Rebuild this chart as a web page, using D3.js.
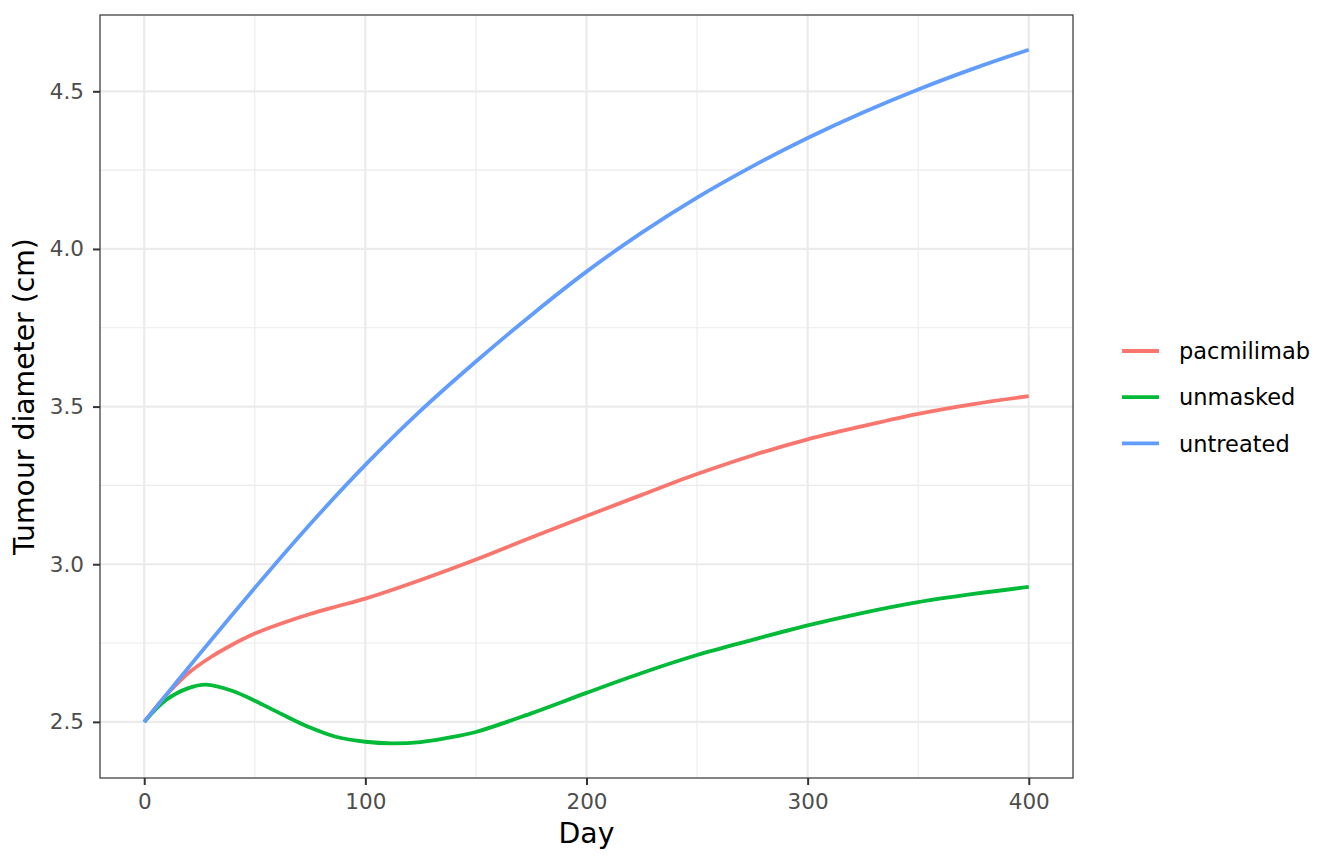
<!DOCTYPE html>
<html>
<head>
<meta charset="utf-8">
<script src="https://cdn.jsdelivr.net/npm/d3@7"></script>
<style>
  body { margin: 0; background: #fff; }
  svg { font-family: "DejaVu Sans", sans-serif; }
</style>
</head>
<body>
<script>
// values
const groups = ['pacmilimab', 'unmasked', 'untreated'];
const colors = ['#F8766D', '#00BA38', '#619CFF'];

const pacDays = [0, 10, 20, 30, 37.5, 50, 62, 75, 87, 100, 125, 150, 175, 200, 225, 250, 275, 300, 325, 350, 375, 400];
const pacVals = [2.5, 2.585, 2.655, 2.705, 2.736, 2.78, 2.812, 2.842, 2.866, 2.891, 2.95, 3.015, 3.085, 3.153, 3.22, 3.286, 3.345, 3.396, 3.438, 3.477, 3.508, 3.533];

const unmDays = [0, 10, 20, 28, 40, 50, 62, 75, 87, 100, 112, 125, 137, 150, 175, 200, 225, 250, 275, 300, 325, 350, 375, 400];
const unmVals = [2.5, 2.57, 2.607, 2.618, 2.598, 2.567, 2.525, 2.482, 2.452, 2.437, 2.432, 2.436, 2.449, 2.468, 2.527, 2.592, 2.655, 2.712, 2.760, 2.806, 2.846, 2.880, 2.906, 2.928];

const untDays = [0, 25, 50, 75, 100, 125, 150, 175, 200, 225, 250, 275, 300, 325, 350, 375, 400];
const untVals = [2.5, 2.715, 2.925, 3.127, 3.315, 3.487, 3.643, 3.79, 3.928, 4.052, 4.163, 4.262, 4.352, 4.433, 4.506, 4.572, 4.632];

const xTicks = [0, 100, 200, 300, 400];
const yTicks = [2.5, 3.0, 3.5, 4.0, 4.5];
const xMinor = [50, 150, 250, 350];
const yMinor = [2.75, 3.25, 3.75, 4.25];

const series = [
  { name: groups[0], days: pacDays, vals: pacVals },
  { name: groups[1], days: unmDays, vals: unmVals },
  { name: groups[2], days: untDays, vals: untVals }
];

const W = 1344, H = 864;
const margin = { top: 15, right: 271, bottom: 86, left: 100 };
const width = W - margin.left - margin.right;
const height = H - margin.top - margin.bottom;

const svg = d3.select('body').append('svg')
  .attr('width', W)
  .attr('height', H);

const g = svg.append('g')
  .attr('transform', `translate(${margin.left},${margin.top})`);

// ggplot-style expansion of 5%
const allVals = pacVals.concat(unmVals, untVals);
const yMin = d3.min(allVals), yMax = d3.max(allVals);
const yPad = (yMax - yMin) * 0.05;

const x = d3.scaleLinear().domain([-20, 420]).range([0, width]);
const y = d3.scaleLinear().domain([yMin - yPad, yMax + yPad]).range([height, 0]);

// minor grid
g.selectAll('.xminor').data(xMinor).enter().append('line')
  .attr('x1', d => x(d)).attr('x2', d => x(d))
  .attr('y1', 0).attr('y2', height)
  .attr('stroke', '#EBEBEB').attr('stroke-width', 1.1);
g.selectAll('.yminor').data(yMinor).enter().append('line')
  .attr('x1', 0).attr('x2', width)
  .attr('y1', d => y(d)).attr('y2', d => y(d))
  .attr('stroke', '#EBEBEB').attr('stroke-width', 1.1);

// major grid
g.selectAll('.xmajor').data(xTicks).enter().append('line')
  .attr('x1', d => x(d)).attr('x2', d => x(d))
  .attr('y1', 0).attr('y2', height)
  .attr('stroke', '#EBEBEB').attr('stroke-width', 2.2);
g.selectAll('.ymajor').data(yTicks).enter().append('line')
  .attr('x1', 0).attr('x2', width)
  .attr('y1', d => y(d)).attr('y2', d => y(d))
  .attr('stroke', '#EBEBEB').attr('stroke-width', 2.2);

// lines
const line = d3.line()
  .x(d => x(d[0]))
  .y(d => y(d[1]))
  .curve(d3.curveCatmullRom.alpha(0.5));

series.forEach((s, i) => {
  g.append('path')
    .datum(s.days.map((d, j) => [d, s.vals[j]]))
    .attr('fill', 'none')
    .attr('stroke', colors[i])
    .attr('stroke-width', 3.8)
    .attr('d', line);
});

// panel border
g.append('rect')
  .attr('width', width).attr('height', height)
  .attr('fill', 'none')
  .attr('stroke', '#333333')
  .attr('stroke-width', 1.2);

// axes
const xAxis = g.append('g')
  .attr('transform', `translate(0,${height})`)
  .call(d3.axisBottom(x).tickValues(xTicks).tickSize(7).tickPadding(9).tickFormat(d3.format('d')));
const yAxis = g.append('g')
  .call(d3.axisLeft(y).tickValues(yTicks).tickSize(7).tickPadding(9).tickFormat(d3.format('.1f')));

[xAxis, yAxis].forEach(a => {
  a.select('.domain').remove();
  a.selectAll('line').attr('stroke', '#333333').attr('stroke-width', 2);
  a.selectAll('text')
    .attr('fill', '#4D4D4D')
    .style('font-size', '21.5px')
    .style('font-family', '"DejaVu Sans", sans-serif');
});

svg.append('text')
  .attr('x', margin.left + width / 2)
  .attr('y', 843)
  .attr('text-anchor', 'middle')
  .style('font-size', '28.3px')
  .text('Day');

svg.append('text')
  .attr('transform', `translate(34,${margin.top + height / 2}) rotate(-90)`)
  .attr('text-anchor', 'middle')
  .style('font-size', '28.3px')
  .text('Tumour diameter (cm)');

// legend
const legend = svg.append('g')
  .attr('transform', 'translate(1122,351)');

groups.forEach((name, i) => {
  legend.append('line')
    .attr('x1', 0).attr('x2', 37)
    .attr('y1', i * 46.2).attr('y2', i * 46.2)
    .attr('stroke', colors[i])
    .attr('stroke-width', 3.8);
  legend.append('text')
    .attr('x', 57)
    .attr('y', i * 46.2)
    .attr('dy', '0.36em')
    .style('font-size', '22.5px')
    .attr('fill', '#000')
    .text(name);
});
</script>
</body>
</html>
